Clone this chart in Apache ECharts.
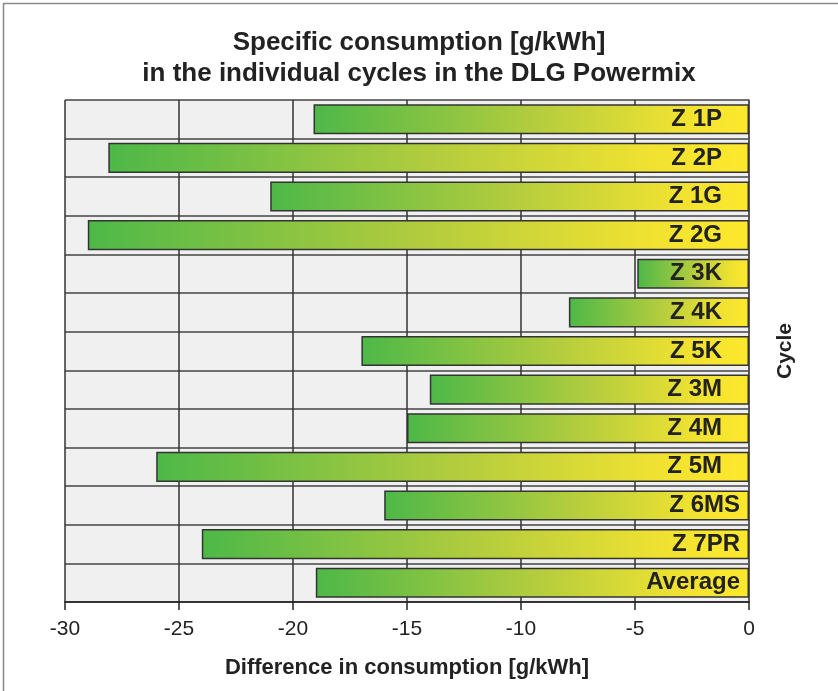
<!DOCTYPE html>
<html>
<head>
<meta charset="utf-8">
<style>
html,body{margin:0;padding:0;background:#fff;}
#chart{width:838px;height:691px;}
</style>
<script src="https://cdn.jsdelivr.net/npm/echarts@6/dist/echarts.min.js"></script>
</head>
<body>
<div id="chart"></div>
<script>
const categories = ['Z 1P','Z 2P','Z 1G','Z 2G','Z 3K','Z 4K','Z 5K','Z 3M','Z 4M','Z 5M','Z 6MS','Z 7PR','Average'];
const values = [-19.1, -28.1, -21.0, -29.0, -4.9, -7.9, -17.0, -14.0, -15.0, -26.0, -16.0, -24.0, -19.0];
const xTicks = [-30, -25, -20, -15, -10, -5, 0];

const chart = echarts.init(document.getElementById('chart'));
const font = '"Liberation Sans", Arial, sans-serif';
const barGradient = new echarts.graphic.LinearGradient(0, 0, 1, 0, [
  {offset: 0, color: '#4db848'},
  {offset: 0.5, color: '#b2cc3e'},
  {offset: 0.85, color: '#f1e231'},
  {offset: 1, color: '#fde82c'}
]);

chart.setOption({
  animation: false,
  backgroundColor: '#fff',
  title: {
    text: 'Specific consumption [g/kWh]\nin the individual cycles in the DLG Powermix',
    left: 'center',
    top: 22,
    textStyle: {fontFamily: font, fontSize: 26, fontWeight: 'bold', color: '#222', lineHeight: 31}
  },
  graphic: [{
    type: 'rect', shape: {x: 3.5, y: 3.5, width: 840, height: 700},
    style: {fill: 'none', stroke: '#888', lineWidth: 1.5}, silent: true
  }],
  grid: {left: 65, right: 89, top: 100, bottom: 89, containLabel: false,
         show: true, backgroundColor: '#f0f0f0', borderWidth: 0},
  xAxis: {
    type: 'value', min: -30, max: 0, interval: 5,
    name: 'Difference in consumption [g/kWh]',
    nameLocation: 'middle', nameGap: 55,
    nameTextStyle: {fontFamily: font, fontSize: 22, fontWeight: 'bold', color: '#222'},
    axisLine: {show: true, lineStyle: {color: '#222', width: 1.5}},
    axisTick: {show: true, length: 8, lineStyle: {color: '#222', width: 1.5}},
    axisLabel: {fontFamily: font, fontSize: 21, color: '#222', margin: 17,
                formatter: v => xTicks.includes(v) ? String(v) : ''},
    splitLine: {show: true, lineStyle: {color: '#333', width: 1.5}}
  },
  yAxis: {
    type: 'category', data: categories, inverse: true, position: 'right',
    name: 'Cycle', nameLocation: 'middle', nameGap: 26, nameRotate: 90,
    nameTextStyle: {fontFamily: font, fontSize: 21, fontWeight: 'bold', color: '#222'},
    axisLine: {show: true, lineStyle: {color: '#555', width: 1.5}},
    axisTick: {show: false},
    axisLabel: {show: false},
    splitLine: {show: true, lineStyle: {color: '#444', width: 1.5}}
  },
  series: [{
    type: 'bar',
    barWidth: '78%',
    data: values.map((v, i) => ({
      value: v,
      label: {distance: categories[i].length > 4 ? 9 : 27}
    })),
    itemStyle: {color: barGradient, borderColor: '#333', borderWidth: 1.5},
    label: {
      show: true, position: 'insideRight',
      formatter: p => categories[p.dataIndex],
      fontFamily: font, fontSize: 24, fontWeight: 'bold', color: '#222'
    }
  }]
});
</script>
</body>
</html>
